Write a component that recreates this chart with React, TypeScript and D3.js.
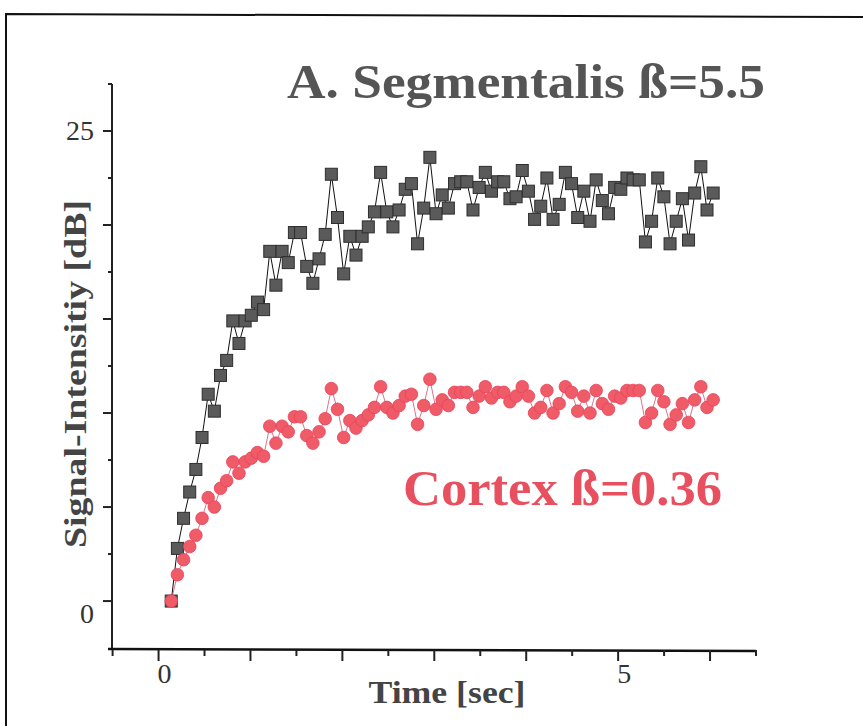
import React from "react";
import * as d3 from "d3";

// ---- data ----
const FRAME_T0 = 0.138; // time of first frame [s]
const FRAME_DT = 0.067; // frame interval [s]

const segmentalis: number[] = [
  0, 2.8, 4.4, 5.8, 7.0, 8.7, 11.0, 10.1, 12.0, 12.8,
  14.9, 13.7, 14.9, 15.2, 15.9, 15.5, 18.6, 16.8, 18.6, 18.0,
  19.6, 19.6, 17.8, 16.9, 18.2, 19.5, 22.7, 20.4, 17.4, 19.4,
  18.4, 19.4, 19.9, 20.7, 22.8, 20.7, 19.9, 20.8, 21.9, 22.2,
  19.0, 20.9, 23.6, 20.6, 21.6, 20.9, 22.2, 22.3, 22.3, 20.8,
  22.0, 22.8, 21.8, 22.3, 22.3, 21.4, 21.5, 22.9, 21.8, 20.3,
  21.0, 22.5, 20.3, 21.1, 22.8, 22.2, 20.4, 21.8, 20.2, 22.4,
  21.3, 20.6, 22.0, 21.9, 22.5, 22.4, 22.4, 19.1, 20.2, 22.5,
  21.5, 19.0, 20.2, 21.4, 19.2, 21.7, 23.1, 20.8, 21.7,
];

const cortex: number[] = [
  0, 1.4, 2.2, 2.9, 3.5, 4.4, 5.5, 5.0, 6.0, 6.4,
  7.4, 6.8, 7.4, 7.6, 7.9, 7.7, 9.3, 8.4, 9.3, 9.0,
  9.8, 9.8, 8.8, 8.4, 9.0, 9.7, 11.3, 10.2, 8.7, 9.6,
  9.2, 9.6, 9.9, 10.3, 11.4, 10.3, 10.0, 10.4, 10.9, 11.0,
  9.4, 10.4, 11.8, 10.2, 10.7, 10.4, 11.1, 11.1, 11.1, 10.3,
  10.9, 11.4, 10.8, 11.1, 11.1, 10.6, 10.9, 11.4, 10.9, 10.0,
  10.3, 11.2, 10.0, 10.5, 11.4, 11.1, 10.1, 10.9, 10.0, 11.2,
  10.5, 10.2, 10.9, 10.8, 11.2, 11.2, 11.2, 9.5, 10.0, 11.2,
  10.6, 9.4, 9.9, 10.5, 9.5, 10.7, 11.4, 10.3, 10.7,
];

const xTickValues: number[] = [-0.5, 0, 0.5, 1, 1.5, 2, 2.5, 3, 3.5, 4, 4.5, 5, 5.5, 6, 6.5];
const xTickLabels: number[] = [0, 5];
const yTickValues: number[] = [0, 2.5, 5, 7.5, 10, 12.5, 15, 17.5, 20, 22.5, 25, 27.5];
const yTickLabels: number[] = [0, 25];

const titleText = "A. Segmentalis ß=5.5";
const cortexText = "Cortex ß=0.36";
const xLabel = "Time [sec]";
const yLabel = "Signal-Intensitiy [dB]";

// ---- layout ----
const W = 863;
const H = 726;
const SERIF = "'Liberation Serif', 'Times New Roman', 'DejaVu Serif', serif";

export default function App() {
  const x = d3.scaleLinear().domain([-0.55, 6.5]).range([108, 756]);
  const y = d3.scaleLinear().domain([-2.55, 27.5]).range([649, 84]);

  const tOf = (i: number) => FRAME_T0 + i * FRAME_DT;
  const line = d3
    .line<number>()
    .x((_, i) => x(tOf(i)))
    .y((d) => y(d));

  const axisY = y(-2.55);
  const axisX = 112;
  const sq = 12;

  return (
    <svg
      width={W}
      height={H}
      style={{ position: "absolute", left: 0, top: 0, background: "#fff" }}
    >
      <rect x={0} y={0} width={W} height={H} fill="#fff" />
      {/* frame */}
      <path d={`M6,${H} L6,14 L${W},17`} fill="none" stroke="#111" strokeWidth={2} />

      {/* axes */}
      <line x1={axisX} x2={axisX} y1={y(27.5)} y2={axisY} stroke="#222" strokeWidth={2} />
      <line x1={x(-0.55)} x2={x(6.5)} y1={axisY} y2={axisY + 2} stroke="#111" strokeWidth={2.5} />
      {yTickValues.map((v) => {
        const major = v % 5 === 0;
        return (
          <line
            key={"yt" + v}
            x1={axisX}
            x2={axisX - (major ? 9 : 4)}
            y1={y(v)}
            y2={y(v)}
            stroke="#222"
            strokeWidth={2}
          />
        );
      })}
      {xTickValues.map((v) => {
        const major = Number.isInteger(v);
        return (
          <line
            key={"xt" + v}
            x1={x(v)}
            x2={x(v)}
            y1={axisY + 1}
            y2={axisY + 1 + (major ? 11 : 6)}
            stroke="#222"
            strokeWidth={2}
          />
        );
      })}
      {yTickLabels.map((v) => (
        <text
          key={"yl" + v}
          x={axisX - 18}
          y={y(v) + (v === 0 ? 22 : 9)}
          textAnchor="end"
          fontFamily={SERIF}
          fontSize={28}
          fill="#333"
        >
          {v}
        </text>
      ))}
      {xTickLabels.map((v) => (
        <text
          key={"xl" + v}
          x={x(v) + 6}
          y={axisY + 34}
          textAnchor="middle"
          fontFamily={SERIF}
          fontSize={28}
          fill="#333"
        >
          {v}
        </text>
      ))}

      {/* axis titles */}
      <text
        x={447}
        y={703}
        textAnchor="middle"
        fontFamily={SERIF}
        fontWeight="bold"
        fontSize={32}
        textLength={157}
        lengthAdjust="spacingAndGlyphs"
        fill="#444"
      >
        {xLabel}
      </text>
      <text
        transform="translate(86,374) rotate(-90)"
        textAnchor="middle"
        fontFamily={SERIF}
        fontWeight="bold"
        fontSize={32}
        textLength={348}
        lengthAdjust="spacingAndGlyphs"
        fill="#444"
      >
        {yLabel}
      </text>

      {/* Segmentalis */}
      <path d={line(segmentalis) || ""} fill="none" stroke="#111" strokeWidth={1} />
      {segmentalis.map((v, i) => (
        <rect
          key={"s" + i}
          x={x(tOf(i)) - sq / 2}
          y={y(v) - sq / 2}
          width={sq}
          height={sq}
          fill="#5a5a5a"
          stroke="#2e2e2e"
          strokeWidth={1}
        />
      ))}

      {/* Cortex */}
      <path d={line(cortex) || ""} fill="none" stroke="#d0506e" strokeWidth={0.8} />
      {cortex.map((v, i) => (
        <circle
          key={"c" + i}
          cx={x(tOf(i))}
          cy={y(v)}
          r={6.3}
          fill="#ef5c68"
          stroke="#e8405a"
          strokeWidth={0.8}
        />
      ))}

      {/* annotations */}
      <text
        x={287}
        y={98}
        fontFamily={SERIF}
        fontWeight="bold"
        fontSize={49}
        textLength={478}
        lengthAdjust="spacingAndGlyphs"
        fill="#555"
      >
        {titleText}
      </text>
      <text
        x={403}
        y={505}
        fontFamily={SERIF}
        fontWeight="bold"
        fontSize={50}
        textLength={319}
        lengthAdjust="spacingAndGlyphs"
        fill="#e8505f"
      >
        {cortexText}
      </text>
    </svg>
  );
}
